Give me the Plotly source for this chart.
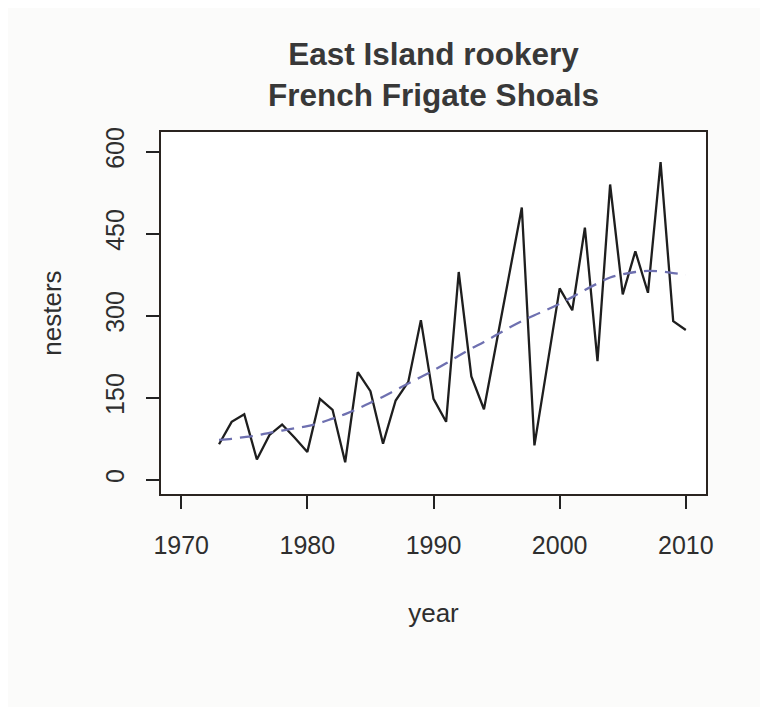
import plotly.graph_objects as go

years = list(range(1973, 2011))
nesters = [65, 106, 120, 37, 82, 101, 77, 51, 148, 128, 32, 197, 162, 66, 145, 179,
           292, 148, 106, 380, 189, 129, 252, 375, 498, 63, 206, 350, 310, 461, 217,
           540, 339, 418, 342, 581, 290, 274]
trend = [73, 75, 78, 81, 86, 90, 94, 98, 104, 112, 120, 130, 141, 152, 164, 176,
         188, 200, 213, 227, 240, 252, 265, 278, 290, 301, 311, 322, 334, 347, 359,
         370, 376, 380, 382, 381, 378, 375]

x_ticks = [1970, 1980, 1990, 2000, 2010]
y_ticks = [0, 150, 300, 450, 600]

title_text = "East Island rookery<br>French Frigate Shoals"
x_label = "year"
y_label = "nesters"

txt = "#2e2e2e"
font_family = "Liberation Sans, Arial, sans-serif"

fig = go.Figure()
fig.add_trace(go.Scatter(x=years, y=nesters, mode="lines",
                         line=dict(color="#1e1e1e", width=2.3), showlegend=False))
fig.add_trace(go.Scatter(x=years, y=trend, mode="lines", line_shape="spline",
                         line=dict(color="#6e70b0", width=2.3, dash="13px,8px"),
                         showlegend=False))

fig.update_layout(
    width=768, height=707,
    margin=dict(l=153, r=70, t=124, b=221),
    paper_bgcolor="#fbfbfa",
    plot_bgcolor="#ffffff",
    font=dict(family=font_family, color=txt, size=25),
    title=dict(text=title_text, x=0.5, xref="paper", xanchor="center",
               y=1 - 57 / 707, yref="container", yanchor="top",
               font=dict(size=31.5, family=font_family, color="#383838", weight="bold")),
)
fig.update_xaxes(range=[1968.4, 2011.6], tickvals=x_ticks, ticktext=[str(v) for v in x_ticks],
                 ticks="outside", ticklen=13, tickwidth=1.5, tickcolor="#222",
                 showline=True, linecolor="#2a2420", linewidth=1.6, mirror=True,
                 showgrid=False, zeroline=False, ticklabelstandoff=15,
                 tickfont=dict(size=25, color=txt),
                 title=dict(text=x_label, font=dict(size=26, color=txt), standoff=46))
fig.update_yaxes(range=[-26, 636], tickvals=y_ticks, ticktext=[str(v) for v in y_ticks],
                 tickangle=-90,
                 ticks="outside", ticklen=13, tickwidth=1.5, tickcolor="#222",
                 showline=True, linecolor="#2a2420", linewidth=1.6, mirror=True,
                 showgrid=False, zeroline=False, ticklabelstandoff=12,
                 tickfont=dict(size=25, color=txt),
                 title=dict(text=y_label, font=dict(size=26, color=txt), standoff=32))

fig.write_html("out.html")
